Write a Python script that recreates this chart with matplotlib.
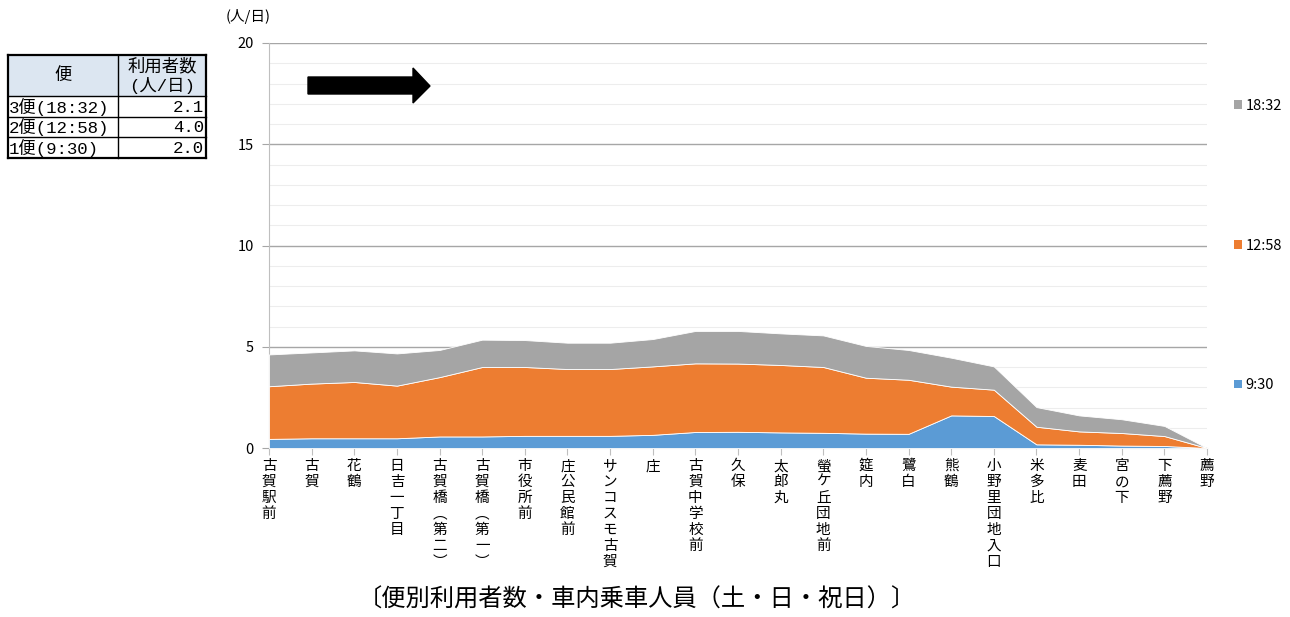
import numpy as np
import matplotlib
matplotlib.use("Agg")
import matplotlib.pyplot as plt
from matplotlib.patches import Patch, Polygon, Rectangle

plt.rcParams['font.family'] = ['Noto Sans CJK JP', 'DejaVu Sans']

# stations along the route
stations = ["古賀駅前", "古賀", "花鶴", "日吉一丁目", "古賀橋（第二）", "古賀橋（第一）",
            "市役所前", "庄公民館前", "サンコスモ古賀", "庄", "古賀中学校前", "久保",
            "太郎丸", "螢ケ丘団地前", "筵内", "鷺白", "熊鶴", "小野里団地入口",
            "米多比", "麦田", "宮の下", "下薦野", "薦野"]

# passengers on board per trip (人/日)
trip_0930 = [0.45, 0.48, 0.48, 0.48, 0.57, 0.57, 0.60, 0.60, 0.60, 0.65, 0.79, 0.80,
             0.77, 0.75, 0.71, 0.70, 1.61, 1.58, 0.18, 0.16, 0.12, 0.10, 0.0]
trip_1258 = [2.60, 2.70, 2.78, 2.60, 2.93, 3.43, 3.40, 3.30, 3.30, 3.38, 3.39, 3.37,
             3.33, 3.25, 2.76, 2.67, 1.42, 1.30, 0.87, 0.66, 0.62, 0.49, 0.0]
trip_1832 = [1.57, 1.54, 1.56, 1.59, 1.34, 1.35, 1.33, 1.30, 1.30, 1.35, 1.60, 1.61,
             1.56, 1.56, 1.57, 1.47, 1.43, 1.15, 0.97, 0.79, 0.68, 0.50, 0.0]
series_labels = ["9:30", "12:58", "18:32"]
colors = ["#5B9BD5", "#ED7D31", "#A5A5A5"]

# summary table
table_rows = [["3便(18:32)", "2.1"], ["2便(12:58)", "4.0"], ["1便(9:30)", "2.0"]]
table_header = ["便", "利用者数", "(人/日)"]

W, H = 1290, 617
fig = plt.figure(figsize=(W / 100, H / 100), dpi=100)
ax = fig.add_axes([269 / W, 1 - 448 / H, (1207 - 269) / W, (448 - 43) / H])

x = np.arange(len(stations))
ax.stackplot(x, trip_0930, trip_1258, trip_1832, colors=colors, linewidth=0.6,
             edgecolor="white", zorder=3)

ax.set_xlim(0, len(stations) - 1)
ax.set_ylim(0, 20)
ax.set_yticks([0, 5, 10, 15, 20])
ax.set_yticks(np.arange(0, 21, 1), minor=True)
ax.grid(axis="y", which="major", color="#A6A6A6", linewidth=1.0, zorder=1)
ax.grid(axis="y", which="minor", color="#EDEDED", linewidth=0.8, zorder=0)
for s in ["top", "right"]:
    ax.spines[s].set_visible(False)
ax.spines["left"].set_color("#BFBFBF")
ax.spines["bottom"].set_color("#BFBFBF")
ax.tick_params(axis="y", which="major", length=5, color="#A6A6A6", labelsize=10.5, pad=6)
ax.tick_params(axis="y", which="minor", length=0)
ax.tick_params(axis="x", length=5, color="#BFBFBF")
ax.set_xticks(x)
ax.set_xticklabels([])

vmap = {"（": "︵", "）": "︶"}
for i, name in enumerate(stations):
    txt = "\n".join(vmap.get(c, c) for c in name)
    ax.text(i, -0.55, txt, ha="center", va="top", fontsize=10.5, linespacing=1.18,
            transform=ax.transData, clip_on=False)

fig.text(248 / W, 1 - 17 / H, "(人/日)", fontsize=10.5, ha="center", va="center")
fig.text(637 / W, 1 - 600 / H, "〔便別利用者数・車内乗車人員（土・日・祝日）〕",
         fontsize=17.5, ha="center", va="center")

# legend, top entry first
handles = [Patch(facecolor=colors[k], edgecolor="none") for k in (2, 1, 0)]
labels = [series_labels[k] for k in (2, 1, 0)]
fig.legend(handles, labels, loc="upper left", bbox_to_anchor=(1228 / W, 1 - 93 / H),
           frameon=False, fontsize=10.5, handlelength=0.55, handleheight=0.55,
           handletextpad=0.25, labelspacing=8.62, borderaxespad=0)

# black arrow
arrow = [(308, 77), (413, 77), (413, 68), (430, 86), (413, 103), (413, 94), (308, 94)]
fig.patches.append(Polygon([(px / W, 1 - py / H) for px, py in arrow], closed=True,
                           facecolor="black", edgecolor="black",
                           transform=fig.transFigure))

# table drawn in pixels
tx = [8, 118, 206]
ty = [55, 96, 117, 137, 158]
def fx(p):
    return p / W
def fy(p):
    return 1 - p / H
mono = ['Liberation Mono', 'Noto Sans CJK JP']
fig.patches.append(Rectangle((fx(tx[0]), fy(ty[1])), fx(tx[2] - tx[0]), (ty[1] - ty[0]) / H,
                             facecolor="#DCE6F1", edgecolor="none",
                             transform=fig.transFigure))
for yy in ty:
    lw = 1.6 if yy in (ty[0], ty[-1]) else 1.0
    fig.add_artist(plt.Line2D([fx(tx[0]), fx(tx[2])], [fy(yy), fy(yy)], color="black",
                              lw=lw, transform=fig.transFigure))
for xx in tx:
    lw = 1.6 if xx in (tx[0], tx[-1]) else 1.0
    fig.add_artist(plt.Line2D([fx(xx), fx(xx)], [fy(ty[0]), fy(ty[-1])], color="black",
                              lw=lw, transform=fig.transFigure))
fig.text(fx((tx[0] + tx[1]) / 2), fy((ty[0] + ty[1]) / 2), table_header[0], fontsize=12.5,
         ha="center", va="center")
fig.text(fx((tx[1] + tx[2]) / 2), fy(66), table_header[1], fontsize=12.5,
         ha="center", va="center")
fig.text(fx((tx[1] + tx[2]) / 2), fy(85), table_header[2], fontsize=12.5,
         ha="center", va="center", family=mono)
for r, (name, val) in enumerate(table_rows):
    yc = fy((ty[r + 1] + ty[r + 2]) / 2 + 0.5)
    fig.text(fx(tx[0] + 1), yc, name, fontsize=12.5, ha="left", va="center", family=mono)
    fig.text(fx(tx[2] - 2), yc, val, fontsize=12.5, ha="right", va="center", family=mono)

fig.savefig("out.png", dpi=100)
